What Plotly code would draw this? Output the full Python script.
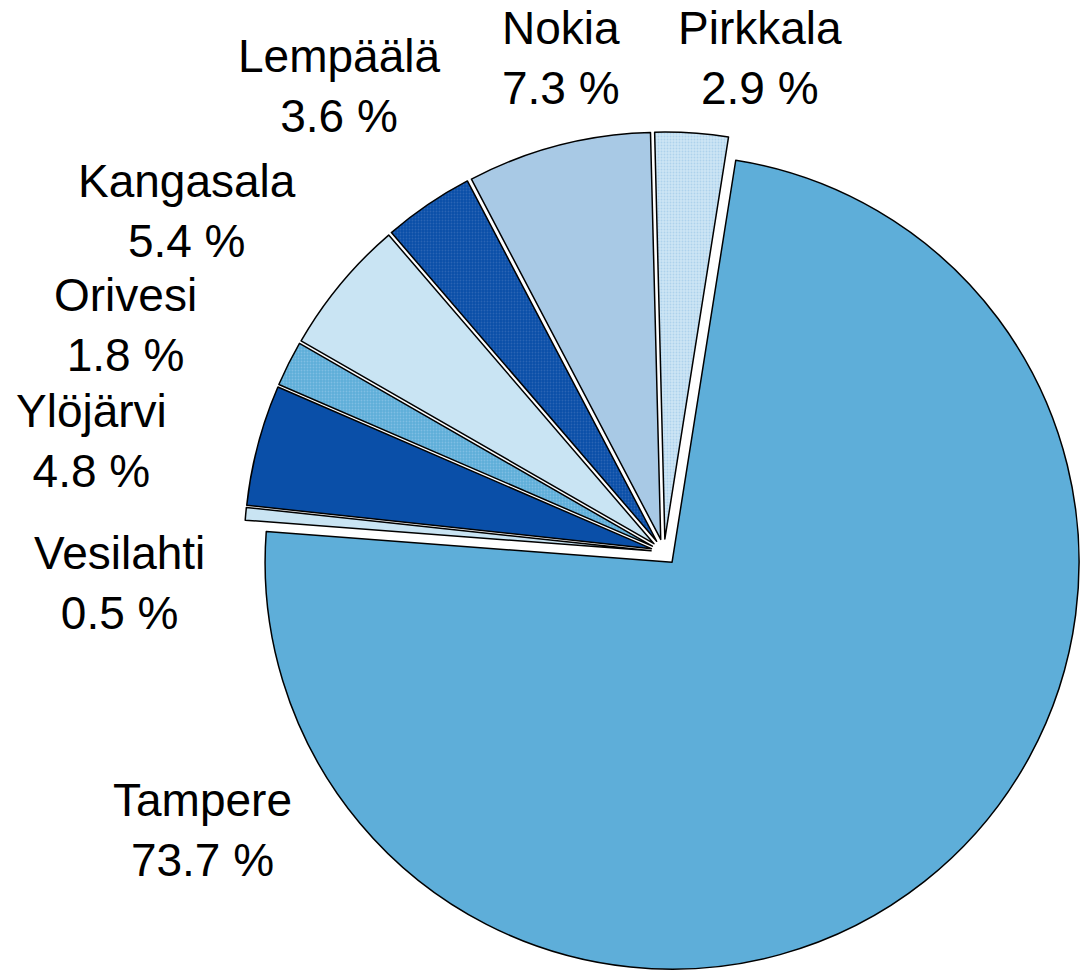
import plotly.graph_objects as go

# Municipality shares (%) in the Tampere region, clockwise from Tampere
municipalities = ["Tampere", "Vesilahti", "Ylöjärvi", "Orivesi",
                  "Kangasala", "Lempäälä", "Nokia", "Pirkkala"]
shares = [73.7, 0.5, 4.8, 1.8, 5.4, 3.6, 7.3, 2.9]

slice_colors = ["#5eaed9", "#c9e4f3", "#0a4fa8", "#5eaed9",
                "#c9e4f3", "#0a4fa8", "#a8c9e5", "#cde6f5"]
pattern_shapes = ["", "", "", ".", "", ".", "", "."]
pattern_fg = ["#5eaed9", "#c9e4f3", "#0a4fa8", "#7fbee3",
              "#c9e4f3", "#2a64b4", "#a8c9e5", "#aed2ec"]

# Label anchor points (pixel centres of each two-line label)
label_x = [202, 119, 91, 125, 187, 339, 561, 760]
label_y = [830, 583, 441, 325, 211, 86, 58, 58]

W, H = 1084, 975
CX, CY, HALF = 664, 552, 420

fig = go.Figure(go.Pie(
    labels=municipalities,
    values=shares,
    sort=False,
    direction="clockwise",
    rotation=9,
    pull=[0.032] * len(shares),
    textinfo="none",
    hoverinfo="skip",
    marker=dict(
        colors=slice_colors,
        line=dict(color="#000000", width=1.5),
        pattern=dict(shape=pattern_shapes, fgcolor=pattern_fg,
                     bgcolor=slice_colors, fillmode="replace",
                     size=3, solidity=0.3),
    ),
    domain=dict(x=[(CX - HALF) / W, (CX + HALF) / W],
                y=[1 - (CY + HALF) / H, 1 - (CY - HALF) / H]),
))

for name, val, px, py in zip(municipalities, shares, label_x, label_y):
    fig.add_annotation(
        x=px / W, y=1 - py / H, xref="paper", yref="paper",
        xanchor="center", yanchor="middle",
        text=f"{name}<br>{val:.1f} %",
        showarrow=False, align="center",
        font=dict(family="Liberation Sans, Arial, sans-serif",
                  size=46, color="#000000"),
    )

fig.update_layout(
    width=W, height=H,
    margin=dict(l=0, r=0, t=0, b=0),
    showlegend=False,
    paper_bgcolor="#ffffff",
    plot_bgcolor="#ffffff",
)

fig.write_html("out.html")
